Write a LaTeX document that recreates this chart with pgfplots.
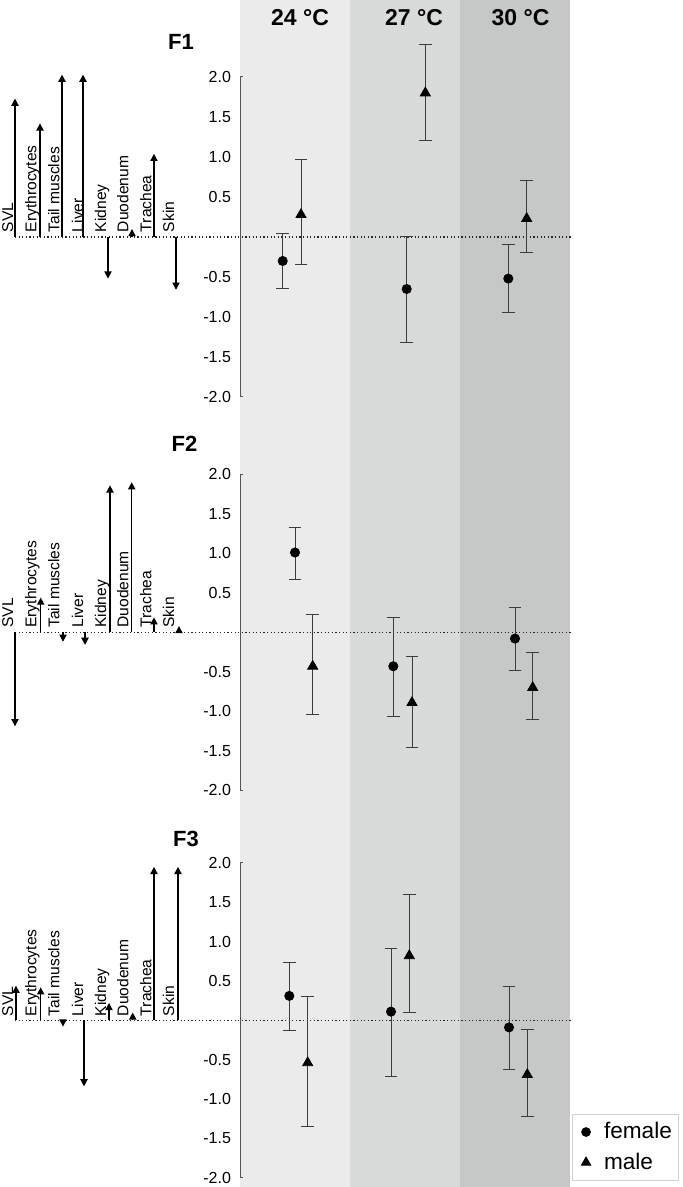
\documentclass[border=0pt]{standalone}
\usepackage{fontspec}
\setmainfont{Liberation Sans}
\usepackage{pgfplots}
\pgfplotsset{compat=1.18}
\usepackage{pgfplotstable}
\usetikzlibrary{arrows.meta}

\definecolor{c24}{RGB}{235,235,235}
\definecolor{c27}{RGB}{217,218,218}
\definecolor{c30}{RGB}{198,199,199}
\definecolor{axcol}{RGB}{85,85,85}
\definecolor{errcol}{RGB}{60,60,60}

% ---------- data: points with asymmetric errors (x in px-like units) ----------
\pgfplotstableread{
x y ep em
282.7 -0.30 0.34 0.35
406.7 -0.65 0.65 0.67
508.3 -0.52 0.42 0.43
}\FoneF
\pgfplotstableread{
x y ep em
301.0 0.28 0.69 0.63
425.3 1.80 0.61 0.59
526.7 0.23 0.47 0.42
}\FoneM
\pgfplotstableread{
x y ep em
295.0 1.01 0.32 0.34
393.3 -0.43 0.62 0.64
515.0 -0.08 0.40 0.41
}\FtwoF
\pgfplotstableread{
x y ep em
312.7 -0.43 0.65 0.61
412.0 -0.89 0.58 0.57
532.7 -0.70 0.44 0.40
}\FtwoM
\pgfplotstableread{
x y ep em
289.3 0.31 0.43 0.44
391.0 0.11 0.80 0.83
509.0 -0.09 0.52 0.54
}\FthreeF
\pgfplotstableread{
x y ep em
307.7 -0.54 0.84 0.81
409.3 0.82 0.78 0.72
527.3 -0.69 0.57 0.53
}\FthreeM

% ---------- data: loading arrows (SVL, Erythrocytes, Tail muscles, Liver, Kidney, Duodenum, Trachea, Skin) ----------
\pgfplotstableread{
x y v
15.0 0 1.73
40.0 0 1.42
62.0 0 2.03
83.0 0 2.03
108.0 0 -0.52
132.0 0 0.10
154.0 0 1.04
176.0 0 -0.66
}\FoneA
\pgfplotstableread{
x y v
15.0 0 -1.19
40.7 0 0.44
63.0 0 -0.12
85.0 0 -0.16
110.0 0 1.86
131.7 0 1.90
154.0 0 0.19
179.0 0 0.08
}\FtwoA
\pgfplotstableread{
x y v
16.0 0 0.44
40.7 0 0.42
63.0 0 -0.08
84.0 0 -0.84
109.0 0 0.22
132.7 0 0.10
154.0 0 1.95
178.0 0 1.95
}\FthreeA

\pgfplotsset{
  panel/.style={scale only axis, width=165pt, xmin=240, xmax=570, ymin=-2, ymax=2,
    clip=false, hide x axis, axis y line*=left, y axis line style={draw=none},
    ytick style={draw=none}, major tick length=0pt,
    ytick={-2,-1.5,-1,-0.5,0.5,1,1.5,2},
    yticklabels={-2.0,-1.5,-1.0,-0.5,0.5,1.0,1.5,2.0},
    yticklabel style={font=\fontsize{8}{9}\selectfont, xshift=-1pt},
    anchor=west},
  errs/.style={error bars/.cd, y dir=both, y explicit,
    error bar style={line width=0.5pt, errcol},
    error mark options={rotate=90, mark size=3.2pt, line width=0.5pt, errcol}},
}

\newcommand\orglabels[1]{%
  \node[rotate=90, anchor=base west, inner sep=0pt, font=\fontsize{7.8}{8}\selectfont] at (axis cs:13,#1) {SVL};
  \node[rotate=90, anchor=base west, inner sep=0pt, font=\fontsize{7.8}{8}\selectfont] at (axis cs:36.3,#1) {Erythrocytes};
  \node[rotate=90, anchor=base west, inner sep=0pt, font=\fontsize{7.8}{8}\selectfont] at (axis cs:59.3,#1) {Tail muscles};
  \node[rotate=90, anchor=base west, inner sep=0pt, font=\fontsize{7.8}{8}\selectfont] at (axis cs:83,#1) {Liver};
  \node[rotate=90, anchor=base west, inner sep=0pt, font=\fontsize{7.8}{8}\selectfont] at (axis cs:106,#1) {Kidney};
  \node[rotate=90, anchor=base west, inner sep=0pt, font=\fontsize{7.8}{8}\selectfont] at (axis cs:128.3,#1) {Duodenum};
  \node[rotate=90, anchor=base west, inner sep=0pt, font=\fontsize{7.8}{8}\selectfont] at (axis cs:151.3,#1) {Trachea};
  \node[rotate=90, anchor=base west, inner sep=0pt, font=\fontsize{7.8}{8}\selectfont] at (axis cs:174,#1) {Skin};
}

\newcommand\panelcontent[3]{%
  \draw[axcol, line width=0.5pt] (axis cs:242.5,2) -- (axis cs:240,2) -- (axis cs:240,-2) -- (axis cs:242.5,-2);
  \addplot[black!85, line width=0.6pt, dash pattern=on 0.6pt off 1.2pt, forget plot] coordinates {(15,0) (572,0)};
  \addplot[quiver={u=0, v=\thisrow{v}}, -{Triangle[length=3.6pt, width=3.6pt]}, line width=0.7pt, black, mark=none, forget plot] table[x=x, y=y] {#1};
  \addplot[only marks, mark=*, mark size=2.3pt, black, forget plot, errs] table[x=x, y=y, y error plus=ep, y error minus=em] {#2};
  \addplot[only marks, mark=triangle*, mark size=2.9pt, black, forget plot, errs] table[x=x, y=y, y error plus=ep, y error minus=em] {#3};
}

\begin{document}
\begin{tikzpicture}
\useasboundingbox (0,0) rectangle (341.5pt,593.5pt);

% background columns, headings and labels (pixel-like coordinates, origin top left)
\begin{axis}[at={(0pt,0pt)}, anchor=south west, scale only axis, width=341.5pt, height=593.5pt,
  xmin=0, xmax=683, ymin=0, ymax=1187, y dir=reverse, hide axis, clip=false]
\addplot[fill=c24, draw=none] coordinates {(240,0) (350,0) (350,1187) (240,1187)};
\addplot[fill=c27, draw=none] coordinates {(350,0) (460,0) (460,1187) (350,1187)};
\addplot[fill=c30, draw=none] coordinates {(460,0) (570,0) (570,1187) (460,1187)};
\node[anchor=base, font=\fontsize{11.5}{12}\selectfont\bfseries] at (axis cs:300,26) {24 °C};
\node[anchor=base, font=\fontsize{11.5}{12}\selectfont\bfseries] at (axis cs:414,26) {27 °C};
\node[anchor=base, font=\fontsize{11.5}{12}\selectfont\bfseries] at (axis cs:520.5,26) {30 °C};
\node[anchor=base, font=\fontsize{11}{12}\selectfont\bfseries] at (axis cs:181,50) {F1};
\node[anchor=base, font=\fontsize{11}{12}\selectfont\bfseries] at (axis cs:184.5,451) {F2};
\node[anchor=base, font=\fontsize{11}{12}\selectfont\bfseries] at (axis cs:186,846.7) {F3};
\orglabels{232.5}
\orglabels{628}
\orglabels{1016.5}
\end{axis}

% F1
\begin{axis}[panel, at={(120pt,475pt)}, height=160pt]
\panelcontent{\FoneA}{\FoneF}{\FoneM}
\end{axis}

% F2
\begin{axis}[panel, at={(120pt,277.35pt)}, height=158pt]
\panelcontent{\FtwoA}{\FtwoF}{\FtwoM}
\end{axis}

% F3
\begin{axis}[panel, at={(120pt,83.35pt)}, height=157.4pt, legend cell align=left,
  legend image code/.code={\path[draw=none, fill=none] (0pt,0pt) (12.5pt,0pt); \draw[#1] plot coordinates {(5.5pt,0pt)};},
  legend style={at={(axis description cs:1.005,0.2025)}, anchor=north west, draw=gray!35,
    font=\fontsize{11.3}{13}\selectfont, inner xsep=1.5pt, inner ysep=2pt, row sep=1.5pt}]
\addlegendimage{only marks, mark=*, mark size=2.2pt, black}
\addlegendentry{female}
\addlegendimage{only marks, mark=triangle*, mark size=2.7pt, black}
\addlegendentry{male}
\panelcontent{\FthreeA}{\FthreeF}{\FthreeM}
\end{axis}
\end{tikzpicture}
\end{document}
